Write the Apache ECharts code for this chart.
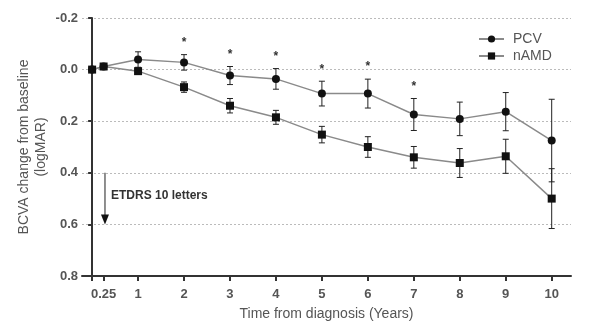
<!DOCTYPE html>
<html>
<head>
<meta charset="utf-8">
<script src="https://cdn.jsdelivr.net/npm/echarts@6/dist/echarts.min.js"></script>
<style>html,body{margin:0;padding:0;background:#fff}#c{width:600px;height:332px}</style>
</head>
<body>
<div id="c"></div>
<script>
// Time points (years)
var years = [0, 0.25, 1, 2, 3, 4, 5, 6, 7, 8, 9, 10];
// Mean BCVA change (logMAR)
var pcvMean  = [0.0, -0.012, -0.039, -0.028, 0.023, 0.036, 0.093, 0.093, 0.174, 0.191, 0.163, 0.275];
var pcvErr   = [0.0, 0.01, 0.03, 0.03, 0.035, 0.04, 0.048, 0.056, 0.062, 0.065, 0.074, 0.16];
var namdMean = [0.0, -0.012, 0.006, 0.068, 0.14, 0.185, 0.252, 0.30, 0.34, 0.362, 0.336, 0.50];
var namdErr  = [0.0, 0.01, 0.012, 0.02, 0.028, 0.027, 0.032, 0.04, 0.042, 0.056, 0.066, 0.116];
// Significance markers (years with *)
var starYears = [2, 3, 4, 5, 6, 7];
// Axis ticks / labels
var xTickValues = [0, 0.25, 1, 2, 3, 4, 5, 6, 7, 8, 9, 10];
var xLabelValues = [0.25, 1, 2, 3, 4, 5, 6, 7, 8, 9, 10];
// Annotation: ETDRS 10 letters arrow
var arrowX = 0.28, arrowFrom = 0.4, arrowTo = 0.6;
var arrowText = 'ETDRS 10 letters';

var txt = '#555';
var font = 'Liberation Sans, Arial, sans-serif';

function pairs(xs, ys) { return xs.map(function (x, i) { return [x, ys[i]]; }); }
function errData(xs, m, e) { return xs.map(function (x, i) { return [x, m[i], e[i]]; }); }

function renderErr(params, api) {
  var x = api.value(0), m = api.value(1), e = api.value(2);
  if (!e) return;
  var top = api.coord([x, m - e]);
  var bot = api.coord([x, m + e]);
  var w = 3;
  var st = { stroke: '#222', lineWidth: 1 };
  return {
    type: 'group',
    children: [
      { type: 'line', shape: { x1: top[0], y1: top[1], x2: bot[0], y2: bot[1] }, style: st },
      { type: 'line', shape: { x1: top[0] - w, y1: top[1], x2: top[0] + w, y2: top[1] }, style: st },
      { type: 'line', shape: { x1: bot[0] - w, y1: bot[1], x2: bot[0] + w, y2: bot[1] }, style: st }
    ]
  };
}

var starData = starYears.map(function (y) {
  var i = years.indexOf(y);
  return [y, pcvMean[i] - pcvErr[i]];
});

var chart = echarts.init(document.getElementById('c'), null, { renderer: 'canvas' });
chart.setOption({
  animation: false,
  backgroundColor: '#fff',
  grid: { left: 82, right: 29, top: 18, bottom: 56 },
  legend: {
    orient: 'vertical',
    left: 473,
    top: 27,
    itemWidth: 25,
    itemHeight: 9,
    itemGap: 3,
    textStyle: { color: txt, fontSize: 14, fontFamily: font, padding: [0, 0, 0, 4] },
    data: ['PCV', 'nAMD']
  },
  xAxis: {
    type: 'value',
    min: -0.22,
    max: 10.42,
    name: 'Time from diagnosis (Years)',
    nameLocation: 'middle',
    nameGap: 31,
    nameTextStyle: { color: txt, fontSize: 14, fontFamily: font },
    axisLine: { onZero: false, lineStyle: { color: '#333', width: 2 } },
    axisTick: { show: true, length: 5, customValues: xTickValues, lineStyle: { color: '#333', width: 2 } },
    axisLabel: {
      customValues: xLabelValues,
      margin: 12,
      color: txt,
      fontSize: 13,
      fontWeight: 'bold',
      fontFamily: font,
      formatter: function (v) { return String(v); }
    },
    splitLine: { show: false }
  },
  yAxis: {
    type: 'value',
    inverse: true,
    min: -0.2,
    max: 0.8,
    interval: 0.2,
    name: 'BCVA change from baseline\n(logMAR)',
    nameLocation: 'middle',
    nameRotate: 90,
    nameGap: 32,
    nameMoveOverlap: false,
    nameTextStyle: { color: txt, fontSize: 14, fontFamily: font, lineHeight: 17, align: 'center' },
    axisLine: { show: true, lineStyle: { color: '#333', width: 2 } },
    axisTick: { show: true, length: 4, lineStyle: { color: '#333', width: 2 } },
    axisLabel: {
      margin: 4,
      color: txt,
      fontSize: 13,
      fontWeight: 'bold',
      fontFamily: font,
      formatter: function (v) { return v.toFixed(1); }
    },
    splitLine: { show: true, lineStyle: { color: '#bbb', type: [2, 2], width: 1 } }
  },
  series: [
    {
      type: 'custom', name: 'pcvErr', renderItem: renderErr, data: errData(years, pcvMean, pcvErr),
      encode: { x: 0, y: 1 }, z: 3, silent: true
    },
    {
      type: 'custom', name: 'namdErr', renderItem: renderErr, data: errData(years, namdMean, namdErr),
      encode: { x: 0, y: 1 }, z: 3, silent: true
    },
    {
      name: 'PCV', type: 'line', data: pairs(years, pcvMean),
      symbol: 'circle', symbolSize: 8,
      lineStyle: { color: '#8a8a8a', width: 1.5 },
      itemStyle: { color: '#111' }, z: 4
    },
    {
      name: 'nAMD', type: 'line', data: pairs(years, namdMean),
      symbol: 'rect', symbolSize: 8,
      lineStyle: { color: '#8a8a8a', width: 1.5 },
      itemStyle: { color: '#111' }, z: 4
    },
    {
      type: 'custom', name: 'stars', data: starData, encode: { x: 0, y: 1 }, silent: true,
      renderItem: function (params, api) {
        var p = api.coord([api.value(0), api.value(1)]);
        return {
          type: 'text',
          style: { text: '*', x: p[0], y: p[1] - 6, align: 'center', verticalAlign: 'bottom',
                   fill: '#333', font: 'bold 12px ' + font }
        };
      }
    },
    {
      type: 'custom', name: 'arrow', data: [[arrowX, arrowFrom, arrowTo]], encode: { x: 0, y: [1, 2] }, silent: true,
      renderItem: function (params, api) {
        var a = api.coord([api.value(0), api.value(1)]);
        var b = api.coord([api.value(0), api.value(2)]);
        var mid = (a[1] + b[1]) / 2;
        return {
          type: 'group',
          children: [
            { type: 'line', shape: { x1: a[0], y1: a[1], x2: b[0], y2: b[1] - 8 }, style: { stroke: '#444', lineWidth: 1.2 } },
            { type: 'polygon', shape: { points: [[b[0] - 4, b[1] - 10], [b[0] + 4, b[1] - 10], [b[0], b[1]]] }, style: { fill: '#111' } },
            { type: 'text', style: { text: arrowText, x: a[0] + 6, y: mid - 3, align: 'left', verticalAlign: 'middle',
                                     fill: '#333', font: 'bold 12px ' + font } }
          ]
        };
      }
    }
  ]
});
</script>
</body>
</html>
